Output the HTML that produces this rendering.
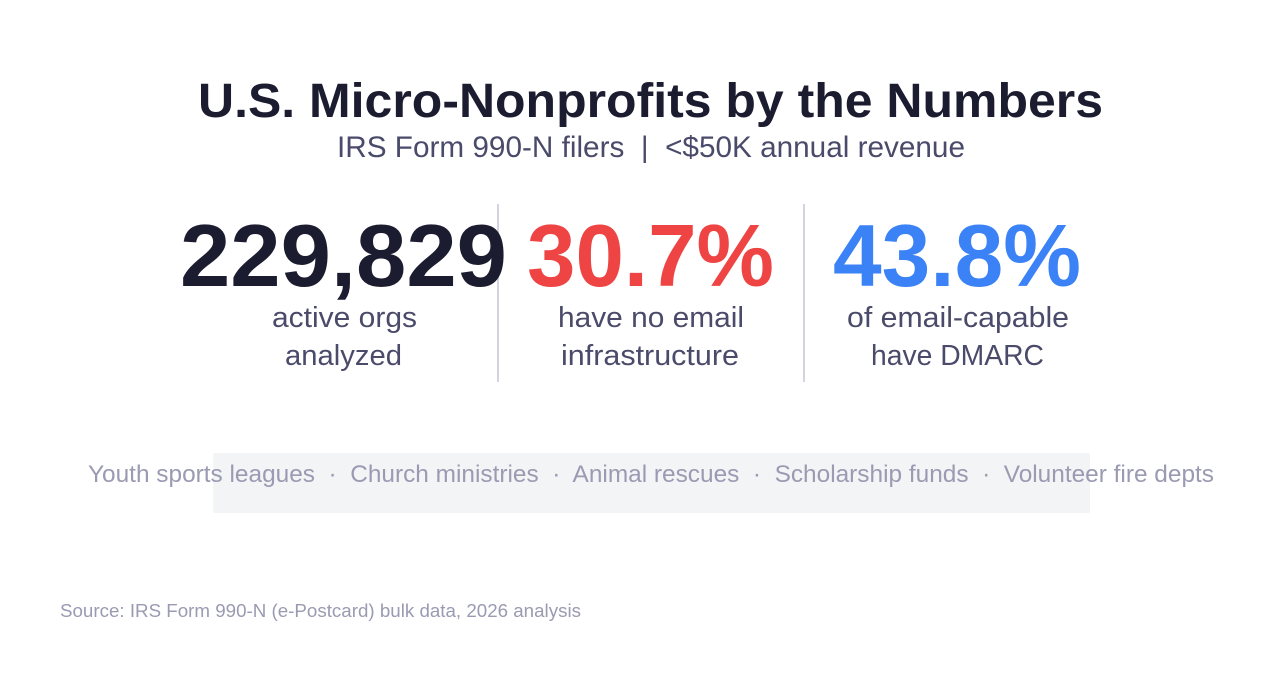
<!DOCTYPE html>
<html>
<head>
<meta charset="utf-8">
<style>
  html, body { margin: 0; padding: 0; background: #ffffff; }
  body { width: 1274px; height: 682px; overflow: hidden; }
  svg { display: block; }
  text { font-family: "Liberation Sans", "DejaVu Sans", sans-serif; white-space: pre; }
</style>
</head>
<body>
<svg width="1274" height="682" viewBox="0 0 1274 682" xmlns="http://www.w3.org/2000/svg" xml:space="preserve">
  <rect x="0" y="0" width="1274" height="682" fill="#ffffff"/>

  <!-- Title -->
  <text x="198" y="117" font-size="48" font-weight="bold" fill="#1c1c30" textLength="905" lengthAdjust="spacingAndGlyphs">U.S. Micro-Nonprofits by the Numbers</text>
  <!-- Subtitle -->
  <text x="337" y="157" font-size="30" fill="#4a4a6a" textLength="628" lengthAdjust="spacingAndGlyphs">IRS Form 990-N filers  |  &lt;$50K annual revenue</text>

  <!-- Dividers -->
  <rect x="497" y="204" width="2" height="178" fill="#d2d5df"/>
  <rect x="803" y="204" width="2" height="178" fill="#d2d5df"/>

  <!-- Big numbers -->
  <text x="180" y="286" font-size="88" font-weight="bold" fill="#1c1c30" textLength="327" lengthAdjust="spacingAndGlyphs">229,829</text>
  <text x="527" y="286" font-size="88" font-weight="bold" fill="#ef4444" textLength="247" lengthAdjust="spacingAndGlyphs">30.7%</text>
  <text x="833" y="286" font-size="88" font-weight="bold" fill="#3b82f6" textLength="248" lengthAdjust="spacingAndGlyphs">43.8%</text>

  <!-- Labels -->
  <text x="272" y="327" font-size="29" fill="#4a4a6a" textLength="145" lengthAdjust="spacingAndGlyphs">active orgs</text>
  <text x="285" y="365" font-size="29" fill="#4a4a6a" textLength="117" lengthAdjust="spacingAndGlyphs">analyzed</text>

  <text x="558" y="327" font-size="29" fill="#4a4a6a" textLength="186" lengthAdjust="spacingAndGlyphs">have no email</text>
  <text x="561" y="365" font-size="29" fill="#4a4a6a" textLength="178" lengthAdjust="spacingAndGlyphs">infrastructure</text>

  <text x="847" y="327" font-size="29" fill="#4a4a6a" textLength="222" lengthAdjust="spacingAndGlyphs">of email-capable</text>
  <text x="871" y="365" font-size="29" fill="#4a4a6a" textLength="173" lengthAdjust="spacingAndGlyphs">have DMARC</text>

  <!-- Category band -->
  <rect x="213" y="453" width="877" height="60" rx="2" fill="#f3f4f6"/>
  <text x="88" y="482" font-size="24" fill="#9a9ab2" textLength="1126" lengthAdjust="spacingAndGlyphs">Youth sports leagues  ·  Church ministries  ·  Animal rescues  ·  Scholarship funds  ·  Volunteer fire depts</text>

  <!-- Source -->
  <text x="60" y="617" font-size="18" fill="#9a9ab2" textLength="521" lengthAdjust="spacingAndGlyphs">Source: IRS Form 990-N (e-Postcard) bulk data, 2026 analysis</text>
</svg>
</body>
</html>
